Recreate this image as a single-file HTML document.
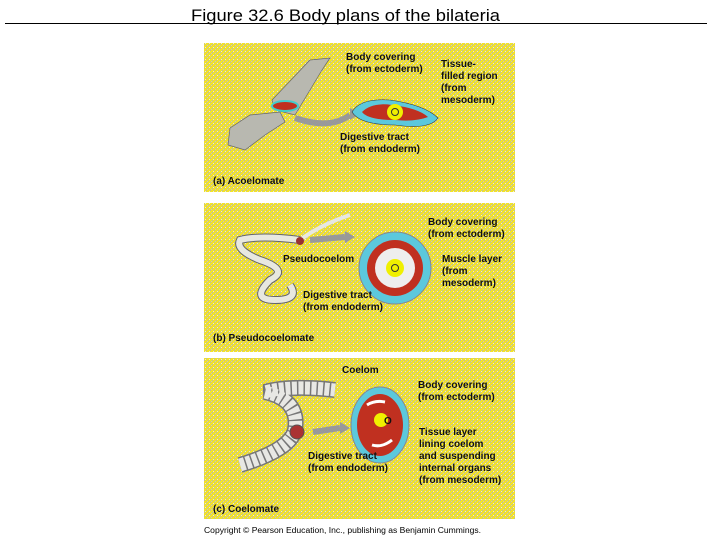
<!DOCTYPE html>
<html><head><meta charset="utf-8"><style>
html,body{margin:0;padding:0;background:#fff;width:719px;height:539px;overflow:hidden}
svg text{font-family:"Liberation Sans",sans-serif}
.l{font-size:10px;font-weight:bold;fill:#111}
</style></head><body>
<svg width="719" height="539" xmlns="http://www.w3.org/2000/svg">
<defs>
<pattern id="y" width="4" height="4" patternUnits="userSpaceOnUse">
<rect width="4" height="4" fill="#f2e22a"/>
<rect x="0" y="0" width="1" height="1" fill="#b8b8b0"/><rect x="2" y="2" width="1" height="1" fill="#b8b8b0"/>
<rect x="3" y="1" width="1" height="1" fill="#c8c8c0"/><rect x="1" y="3" width="1" height="1" fill="#e8e8e0"/>
</pattern>
</defs>
<text x="191" y="21" font-size="17" textLength="309" lengthAdjust="spacingAndGlyphs">Figure 32.6  Body plans of the bilateria</text>
<line x1="5" y1="23.5" x2="707" y2="23.5" stroke="#000" stroke-width="1"/>

<!-- panel a -->
<rect x="204" y="43" width="311" height="149" fill="url(#y)"/>
<path d="M272 100 L310 60 L330 58 L322 70 L295 115 L275 110 Z" fill="#b8b8b0" stroke="#666" stroke-width="0.7"/>
<ellipse cx="285" cy="106" rx="13" ry="5" fill="#c03020" stroke="#4cc" stroke-width="2"/>
<path d="M230 128 L250 115 L280 112 L285 122 L265 135 L245 150 L228 145 Z" fill="#b8b8b0" stroke="#666" stroke-width="0.7"/>
<path d="M295 118 Q330 130 350 115" stroke="#999" stroke-width="6" fill="none"/>
<path d="M350 108 L360 114 L350 120Z" fill="#999"/>
<path d="M352 112 Q360 98 390 100 Q425 105 438 118 Q430 130 395 125 Q360 125 352 112Z" fill="#5cc8dc" stroke="#333" stroke-width="0.6"/>
<path d="M362 112 Q372 102 392 105 Q418 108 428 117 Q415 122 395 120 Q368 120 362 112Z" fill="#c03020"/>
<circle cx="395" cy="112" r="8" fill="#f0f000"/><circle cx="395" cy="112" r="3.5" fill="none" stroke="#333"/>
<text class="l" x="346" y="60">Body covering</text><text class="l" x="346" y="72">(from ectoderm)</text>
<text class="l" x="441" y="67">Tissue-</text><text class="l" x="441" y="79">filled region</text><text class="l" x="441" y="91">(from</text><text class="l" x="441" y="103">mesoderm)</text>
<text class="l" x="340" y="140">Digestive tract</text><text class="l" x="340" y="152">(from endoderm)</text>
<text class="l" x="213" y="184">(a) Acoelomate</text>

<!-- panel b -->
<rect x="204" y="203" width="311" height="149" fill="url(#y)"/>
<path d="M300 240 Q260 235 240 240 Q235 250 260 260 Q290 270 270 280 Q250 300 275 300 Q300 300 290 285" fill="none" stroke="#666" stroke-width="8"/>
<path d="M300 240 Q260 235 240 240 Q235 250 260 260 Q290 270 270 280 Q250 300 275 300 Q300 300 290 285" fill="none" stroke="#e8e8e0" stroke-width="6"/>
<path d="M300 240 Q320 225 350 215" fill="none" stroke="#e8e8e0" stroke-width="4"/>
<circle cx="300" cy="241" r="4" fill="#933"/>
<path d="M310 240 L345 237" stroke="#999" stroke-width="6"/><path d="M345 231 L355 237 L345 243Z" fill="#999"/>
<circle cx="395" cy="268" r="36" fill="#5cc8dc" stroke="#888"/>
<circle cx="395" cy="268" r="28" fill="#c03020"/>
<circle cx="395" cy="268" r="20" fill="#eee"/>
<circle cx="395" cy="268" r="9" fill="#f0f000"/><circle cx="395" cy="268" r="3.5" fill="none" stroke="#333"/>
<text class="l" x="428" y="225">Body covering</text><text class="l" x="428" y="237">(from ectoderm)</text>
<text class="l" x="283" y="262">Pseudocoelom</text>
<text class="l" x="442" y="262">Muscle layer</text><text class="l" x="442" y="274">(from</text><text class="l" x="442" y="286">mesoderm)</text>
<text class="l" x="303" y="298">Digestive tract</text><text class="l" x="303" y="310">(from endoderm)</text>
<text class="l" x="213" y="341">(b) Pseudocoelomate</text>

<!-- panel c -->
<rect x="204" y="358" width="311" height="161" fill="url(#y)"/>
<path d="M240 465 Q290 450 295 430 Q300 400 265 392 Q290 385 335 390" fill="none" stroke="#777" stroke-width="16"/>
<path d="M240 465 Q290 450 295 430 Q300 400 265 392 Q290 385 335 390" fill="none" stroke="#e8e8e4" stroke-width="13" stroke-dasharray="5 1.5"/>
<circle cx="297" cy="432" r="7" fill="#a33" stroke="#555"/>
<path d="M313 432 L340 428" stroke="#999" stroke-width="6"/><path d="M340 422 L350 428 L340 434Z" fill="#999"/>
<ellipse cx="380" cy="425" rx="29" ry="38" fill="#5cc8dc" stroke="#888"/>
<ellipse cx="380" cy="425" rx="23" ry="31" fill="#c03020"/>
<path d="M367 405 Q375 400 385 402" stroke="#fff" stroke-width="3" fill="none"/>
<path d="M372 445 Q382 448 392 440" stroke="#fff" stroke-width="3" fill="none"/>
<circle cx="381" cy="420" r="7" fill="#f0f000"/>
<text class="l" x="384" y="424" font-size="8">O</text>
<text class="l" x="342" y="373">Coelom</text>
<text class="l" x="418" y="388">Body covering</text><text class="l" x="418" y="400">(from ectoderm)</text>
<text class="l" x="419" y="435">Tissue layer</text><text class="l" x="419" y="447">lining coelom</text><text class="l" x="419" y="459">and suspending</text><text class="l" x="419" y="471">internal organs</text><text class="l" x="419" y="483">(from mesoderm)</text>
<text class="l" x="308" y="459">Digestive tract</text><text class="l" x="308" y="471">(from endoderm)</text>
<text class="l" x="213" y="512">(c) Coelomate</text>
<text x="204" y="533" font-size="8" textLength="277" lengthAdjust="spacingAndGlyphs">Copyright © Pearson Education, Inc., publishing as Benjamin Cummings.</text>
</svg>
</body></html>
